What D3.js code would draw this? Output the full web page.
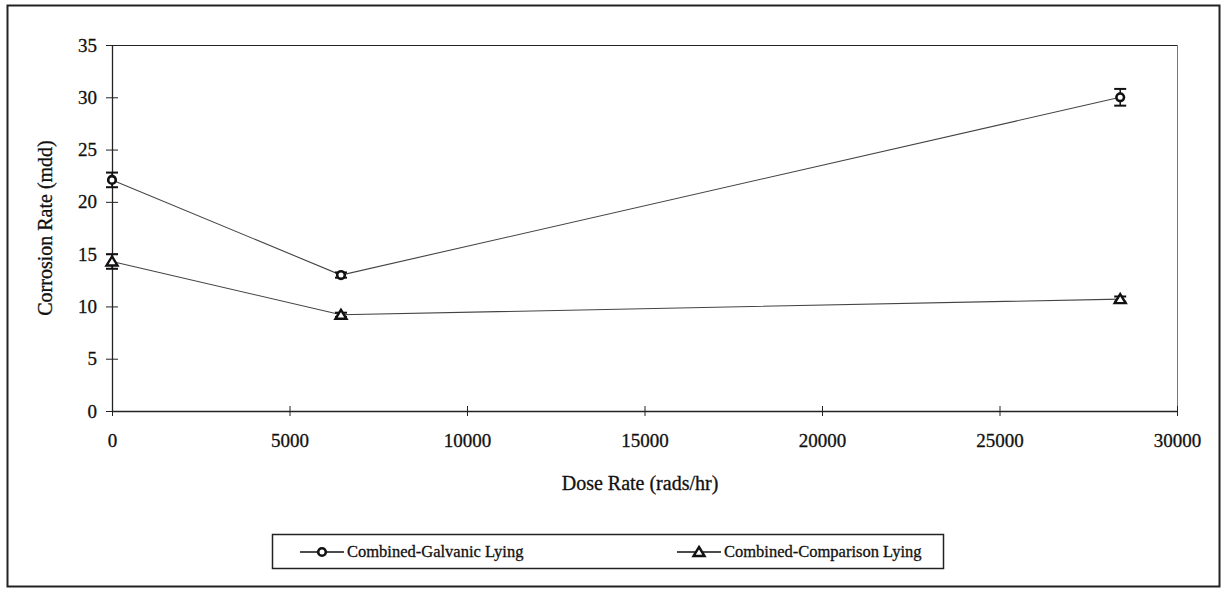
<!DOCTYPE html>
<html>
<head>
<meta charset="utf-8">
<script src="https://cdn.jsdelivr.net/npm/d3@7"></script>
<style>
  html, body { margin: 0; padding: 0; background: #fff; }
  svg { display: block; }
  svg text { font-family: "Times New Roman", "Liberation Serif", Tinos, "DejaVu Serif", serif; fill: #111; stroke: #111; stroke-width: 0.3px; }
</style>
</head>
<body>
<svg id="chart" width="1223" height="590"></svg>
<script>
// Dose rate (rads/hr) at each exposure
const doseRates = [0, 6450, 28400];
// Corrosion rate (mdd) and error half-widths per series
const galvanicValues = [22.1, 13.0, 30.0];
const galvanicErrors = [0.7, 0.25, 0.8];
const comparisonValues = [14.3, 9.2, 10.7];
const comparisonErrors = [0.7, 0.2, 0.25];
const seriesNames = ["Combined-Galvanic Lying", "Combined-Comparison Lying"];
const xTicks = [0, 5000, 10000, 15000, 20000, 25000, 30000];
const yTicks = [0, 5, 10, 15, 20, 25, 30, 35];

const svg = d3.select("#chart");
const ink = "#222";
const tickFont = 19, titleFont = 20, legendFont = 16.5;

// outer frame
svg.append("rect").attr("x", 7.5).attr("y", 5.5).attr("width", 1212).attr("height", 581)
  .attr("fill", "none").attr("stroke", ink).attr("stroke-width", 2);

const plot = { left: 112, right: 1177, top: 45, bottom: 411 };
const x = d3.scaleLinear().domain([0, 30000]).range([plot.left, plot.right]);
const y = d3.scaleLinear().domain([0, 35]).range([plot.bottom, plot.top]);

// top and right borders of the plot area
svg.append("line").attr("x1", plot.left).attr("x2", plot.right)
  .attr("y1", plot.top + 0.5).attr("y2", plot.top + 0.5).attr("stroke", ink).attr("stroke-width", 1.2);
svg.append("line").attr("x1", plot.right + 0.5).attr("x2", plot.right + 0.5)
  .attr("y1", plot.top).attr("y2", plot.bottom).attr("stroke", "#777").attr("stroke-width", 1);

// axes, with tick marks crossing the axis line
const xAxis = d3.axisBottom(x).tickValues(xTicks).tickSize(0).tickPadding(23).tickFormat(d3.format("d"));
const gx = svg.append("g").attr("transform", `translate(0,${plot.bottom})`).call(xAxis)
  .attr("font-family", null).attr("font-size", tickFont);
gx.select(".domain").attr("stroke", ink).attr("stroke-width", 1.3);
gx.selectAll(".tick line").remove();
gx.selectAll(".tick").append("line").attr("y1", -5).attr("y2", 5).attr("stroke", ink);

const yAxis = d3.axisLeft(y).tickValues(yTicks).tickSize(0).tickPadding(15);
const gy = svg.append("g").attr("transform", `translate(${plot.left},0)`).call(yAxis)
  .attr("font-family", null).attr("font-size", tickFont);
gy.select(".domain").attr("stroke", ink).attr("stroke-width", 1.3);
gy.selectAll(".tick line").remove();
gy.selectAll(".tick").append("line").attr("x1", -6).attr("x2", 6).attr("stroke", ink);

// axis titles
svg.append("text").attr("x", 640).attr("y", 490)
  .attr("text-anchor", "middle").attr("font-size", titleFont).text("Dose Rate (rads/hr)");
svg.append("text").attr("transform", `translate(52,${(plot.top + plot.bottom) / 2}) rotate(-90)`)
  .attr("text-anchor", "middle").attr("font-size", titleFont).text("Corrosion Rate (mdd)");

const series = [
  { name: seriesNames[0], values: galvanicValues, errors: galvanicErrors, shape: "circle" },
  { name: seriesNames[1], values: comparisonValues, errors: comparisonErrors, shape: "triangle" }
];

function drawMarker(g, shape, cx, cy) {
  if (shape === "circle") {
    g.append("circle").attr("cx", cx).attr("cy", cy).attr("r", 3.8)
      .attr("fill", "#fff").attr("stroke", "#111").attr("stroke-width", 2.6);
  } else {
    g.append("path").attr("d", `M${cx},${cy - 5} L${cx + 5.5},${cy + 4} L${cx - 5.5},${cy + 4} Z`)
      .attr("fill", "#fff").attr("stroke", "#111").attr("stroke-width", 2.4);
  }
}

const line = d3.line().x(d => x(d[0])).y(d => y(d[1]));
series.forEach(s => {
  const pts = doseRates.map((d, i) => [d, s.values[i], s.errors[i]]);
  const g = svg.append("g");
  g.append("path").datum(pts).attr("d", line).attr("fill", "none")
    .attr("stroke", "#444").attr("stroke-width", 1.1);
  pts.forEach(p => {
    const cx = x(p[0]);
    const yt = y(p[1] + p[2]), yb = y(p[1] - p[2]);
    g.append("line").attr("x1", cx).attr("x2", cx).attr("y1", yt).attr("y2", yb).attr("stroke", "#111").attr("stroke-width", 1.5);
    g.append("line").attr("x1", cx - 6).attr("x2", cx + 6).attr("y1", yt).attr("y2", yt).attr("stroke", "#111").attr("stroke-width", 2);
    g.append("line").attr("x1", cx - 6).attr("x2", cx + 6).attr("y1", yb).attr("y2", yb).attr("stroke", "#111").attr("stroke-width", 2);
    drawMarker(g, s.shape, cx, y(p[1]));
  });
});

// legend
const legend = svg.append("g");
legend.append("rect").attr("x", 272.5).attr("y", 534.5).attr("width", 671).attr("height", 34)
  .attr("fill", "#fff").attr("stroke", ink).attr("stroke-width", 1.5);
const legendX = [300, 677];
series.forEach((s, i) => {
  const lx = legendX[i], ly = 552;
  legend.append("line").attr("x1", lx).attr("x2", lx + 44).attr("y1", ly).attr("y2", ly)
    .attr("stroke", "#111").attr("stroke-width", 1.6);
  drawMarker(legend, s.shape, lx + 22, ly);
  legend.append("text").attr("x", lx + 47).attr("y", ly + 5).attr("font-size", legendFont).text(s.name);
});
</script>
</body>
</html>
